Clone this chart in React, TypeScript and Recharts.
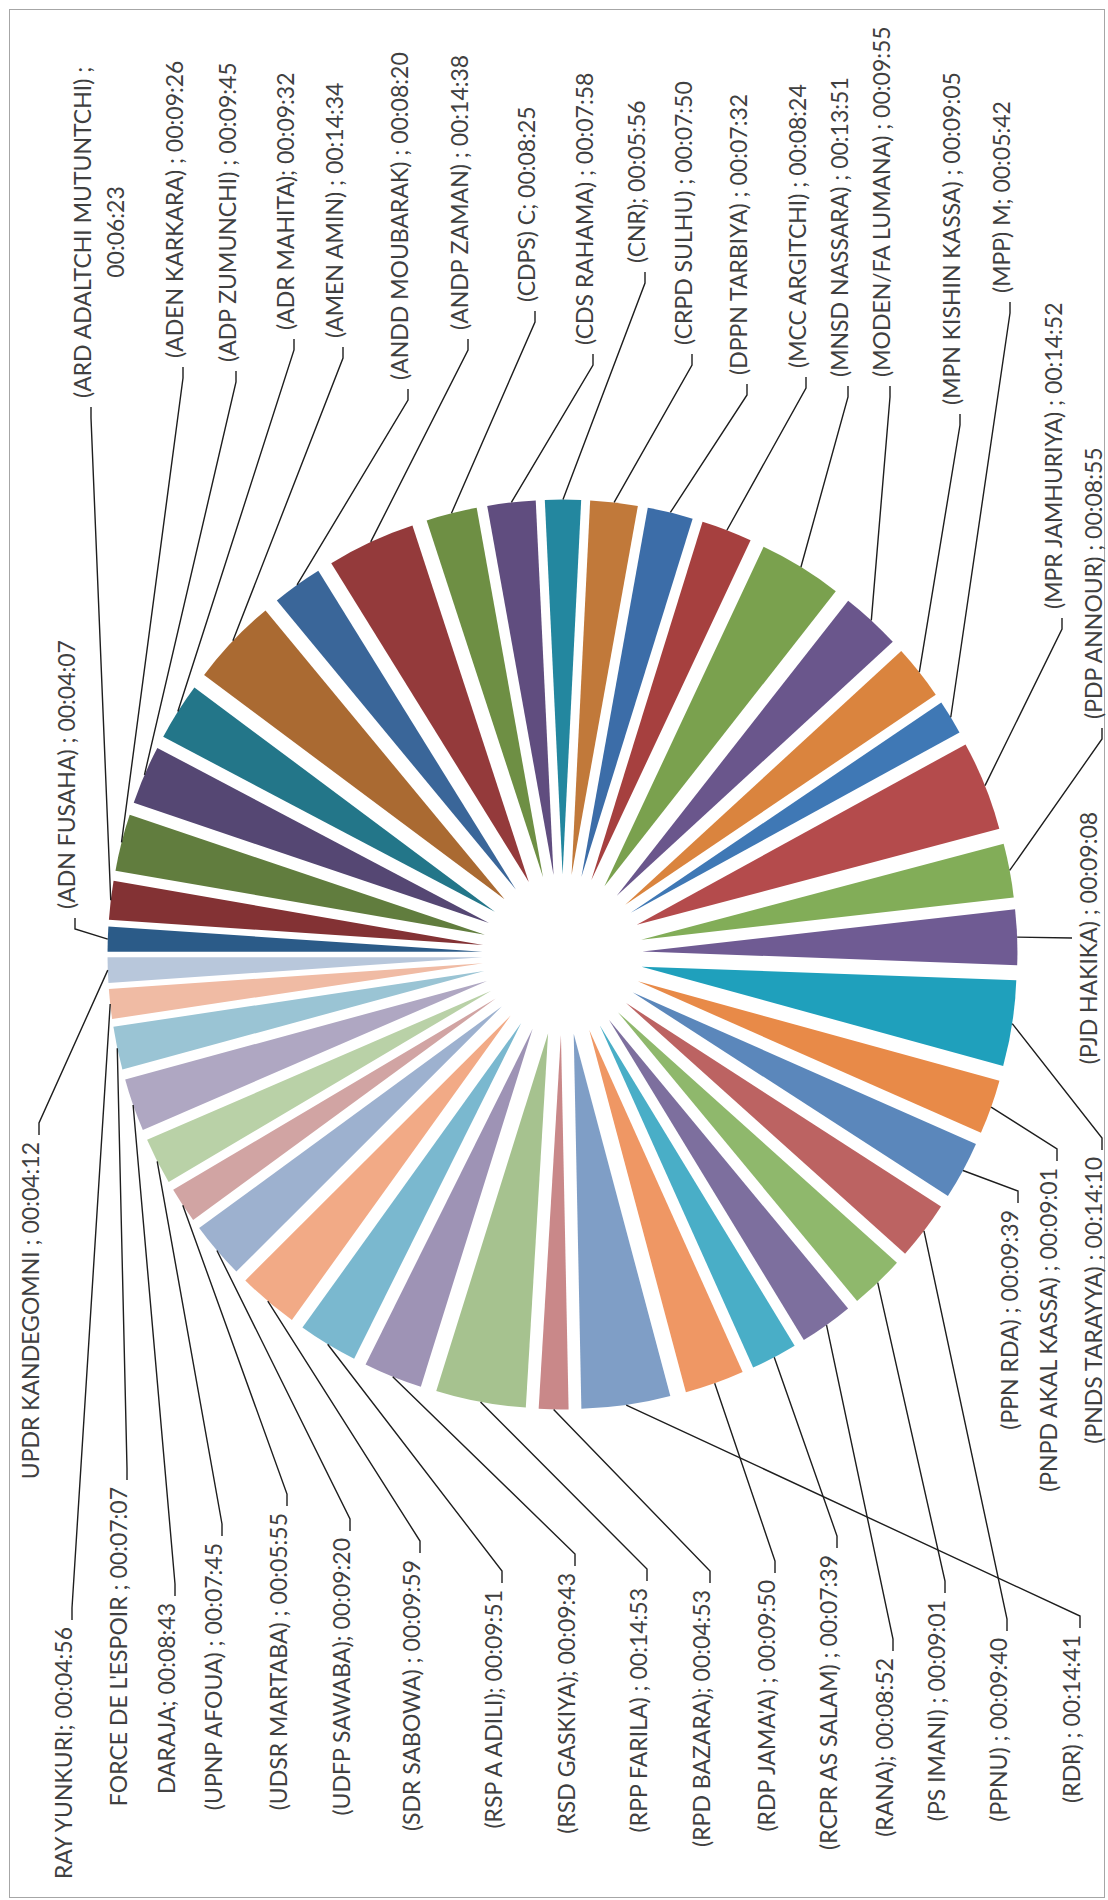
import React from "react";
import { PieChart, Pie, Sector } from "recharts";

// party labels (text before the duration) in the order the slices run, clockwise from 12 o'clock
const parties = [
  "(ADN FUSAHA) ;",
  "(ARD ADALTCHI MUTUNTCHI) ;",
  "(ADEN KARKARA) ;",
  "(ADP ZUMUNCHI) ;",
  "(ADR MAHITA);",
  "(AMEN AMIN) ;",
  "(ANDD MOUBARAK) ;",
  "(ANDP ZAMAN) ;",
  "(CDPS) C;",
  "(CDS RAHAMA) ;",
  "(CNR);",
  "(CRPD SULHU) ;",
  "(DPPN TARBIYA) ;",
  "(MCC ARGITCHI) ;",
  "(MNSD NASSARA) ;",
  "(MODEN/FA LUMANA) ;",
  "(MPN KISHIN KASSA) ;",
  "(MPP) M;",
  "(MPR JAMHURIYA) ;",
  "(PDP ANNOUR) ;",
  "(PJD HAKIKA) ;",
  "(PNDS TARAYYA) ;",
  "(PNPD AKAL KASSA) ;",
  "(PPN RDA) ;",
  "(PPNU) ;",
  "(PS IMANI) ;",
  "(RANA);",
  "(RCPR AS SALAM) ;",
  "(RDP JAMA'A) ;",
  "(RDR) ;",
  "(RPD BAZARA);",
  "(RPP FARILA) ;",
  "(RSD GASKIYA);",
  "(RSP A ADILI);",
  "(SDR SABOWA) ;",
  "(UDFP SAWABA);",
  "(UDSR MARTABA) ;",
  "(UPNP AFOUA) ;",
  "DARAJA;",
  "FORCE DE L'ESPOIR ;",
  "RAY YUNKURI;",
  "UPDR KANDEGOMNI ;",
];

// speaking time of each party
const durations = [
  "00:04:07", "00:06:23", "00:09:26", "00:09:45", "00:09:32", "00:14:34",
  "00:08:20", "00:14:38", "00:08:25", "00:07:58", "00:05:56", "00:07:50",
  "00:07:32", "00:08:24", "00:13:51", "00:09:55", "00:09:05", "00:05:42",
  "00:14:52", "00:08:55", "00:09:08", "00:14:10", "00:09:01", "00:09:39",
  "00:09:40", "00:09:01", "00:08:52", "00:07:39", "00:09:50", "00:14:41",
  "00:04:53", "00:14:53", "00:09:43", "00:09:51", "00:09:59", "00:09:20",
  "00:05:55", "00:07:45", "00:08:43", "00:07:07", "00:04:56", "00:04:12",
];

const sliceColors = [
  "#2b5b88", "#833234", "#617d3e", "#554773", "#237689", "#aa6a32",
  "#3a6699", "#943a3b", "#6e8f44", "#604d7f", "#23879f", "#c1793a",
  "#3c6da8", "#a6403f", "#7aa14e", "#6a568c", "#da843e", "#3f78b5",
  "#b44b4c", "#82ad58", "#6f5b93", "#1fa0bc", "#e88a48", "#5b87bb",
  "#bc6362", "#8fb86c", "#7d6f9e", "#49aec7", "#ef9764", "#7f9ec6",
  "#c98889", "#a6c28f", "#9e93b5", "#7ab8cf", "#f2aa86", "#9db1cf",
  "#d1a4a3", "#b9d1a7", "#afa7c2", "#9ac4d4", "#f0bba4", "#b8c7db",
];

// where Excel put each data label (unrotated frame): x, baseline y, anchor, centre of 2nd line
const labelSpots: [number, number, string, number?][] = [
  [991, 75, "start"], [1502, 91, "start", 1668], [1542, 183, "start"],
  [1538, 236, "start"], [1570, 294, "start"], [1562, 343, "start"],
  [1520, 408, "start"], [1570, 468, "start"], [1598, 535, "start"],
  [1555, 593, "start"], [1637, 645, "start"], [1555, 692, "start"],
  [1525, 747, "start"], [1532, 806, "start"], [1523, 848, "start"],
  [1523, 890, "start"], [1495, 960, "start"], [1607, 1010, "start"],
  [1291, 1062, "start"], [1181, 1102, "start"], [962, 1097, "middle"],
  [743, 1102, "end"], [732, 1057, "end"], [690, 1018, "end"],
  [262, 1007, "end"], [300, 945, "end"], [242, 893, "end"],
  [345, 837, "end"], [320, 775, "end"], [265, 1080, "end"],
  [310, 710, "end"], [312, 647, "end"], [327, 575, "end"],
  [310, 502, "end"], [340, 420, "end"], [362, 350, "end"],
  [387, 287, "end"], [357, 222, "end"], [297, 175, "end"],
  [413, 127, "end"], [273, 72, "end"], [758, 39, "end"],
];

const toSeconds = (t: string) => {
  const [h, m, s] = t.split(":").map(Number);
  return h * 3600 + m * 60 + s;
};

const data = parties.map((p, i) => ({
  name: p,
  time: durations[i],
  value: toSeconds(durations[i]),
}));

const W = 1900;
const H = 1108;
const CX = 945.5;
const CY = 562.5;
const RADIUS = 375;
const EXPLODE = 80;
const RAD = Math.PI / 180;
const FONT = "Lato, 'Noto Sans', sans-serif";

// exploded slice + leader line + label, drawn from the angles Recharts computed
const renderSlice = (props: any) => {
  const { cx, cy, startAngle, endAngle, midAngle, outerRadius, index } = props;
  const cos = Math.cos(-midAngle * RAD);
  const sin = Math.sin(-midAngle * RAD);
  const ox = cx + EXPLODE * cos;
  const oy = cy + EXPLODE * sin;
  const px = cx + (outerRadius + EXPLODE) * cos;
  const py = cy + (outerRadius + EXPLODE) * sin;
  const [lx, ly, anchor, line2] = labelSpots[index];

  let pts: number[][];
  if (anchor === "start") pts = [[px, py], [lx - 20, ly], [lx - 9, ly]];
  else if (anchor === "end") pts = [[px, py], [lx + 19, ly], [lx + 7, ly]];
  else pts = [[px, py], [lx, ly - 25]];

  const d = data[index];
  return (
    <g key={`slice-${index}`}>
      <Sector
        cx={ox}
        cy={oy}
        innerRadius={0}
        outerRadius={outerRadius}
        startAngle={startAngle}
        endAngle={endAngle}
        fill={sliceColors[index]}
      />
      <polyline
        points={pts.map((p) => p.join(",")).join(" ")}
        fill="none"
        stroke="#1e1e1e"
        strokeWidth={1.4}
      />
      {line2 ? (
        <>
          <text x={lx} y={ly} textAnchor="start" fontFamily={FONT} fontSize={23} fill="#404040">
            {d.name}
          </text>
          <text x={line2} y={ly + 33} textAnchor="middle" fontFamily={FONT} fontSize={23} fill="#404040">
            {d.time}
          </text>
        </>
      ) : (
        <text x={lx} y={ly} textAnchor={anchor as any} fontFamily={FONT} fontSize={23} fill="#404040">
          {`${d.name} ${d.time}`}
        </text>
      )}
    </g>
  );
};

export default function App() {
  return (
    <div
      style={{
        position: "absolute",
        left: 0,
        top: 0,
        width: 1108,
        height: 1900,
        overflow: "hidden",
        background: "#fff",
      }}
    >
      <div
        style={{
          position: "absolute",
          left: 0,
          top: 0,
          width: W,
          height: H,
          transformOrigin: "0 0",
          transform: `translateY(${W}px) rotate(-90deg)`,
        }}
      >
        <div
          style={{
            position: "absolute",
            left: 2,
            top: 9,
            width: 1889,
            height: 1096,
            border: "1px solid #a6a6a6",
            boxSizing: "border-box",
          }}
        />
        <PieChart width={W} height={H} margin={{ top: 0, right: 0, bottom: 0, left: 0 }}>
          <Pie
            data={data}
            dataKey="value"
            nameKey="name"
            cx={CX}
            cy={CY}
            innerRadius={0}
            outerRadius={RADIUS}
            startAngle={90}
            endAngle={-270}
            fill="none"
            stroke="none"
            label={renderSlice}
            labelLine={false}
            isAnimationActive={false}
          />
        </PieChart>
      </div>
    </div>
  );
}
